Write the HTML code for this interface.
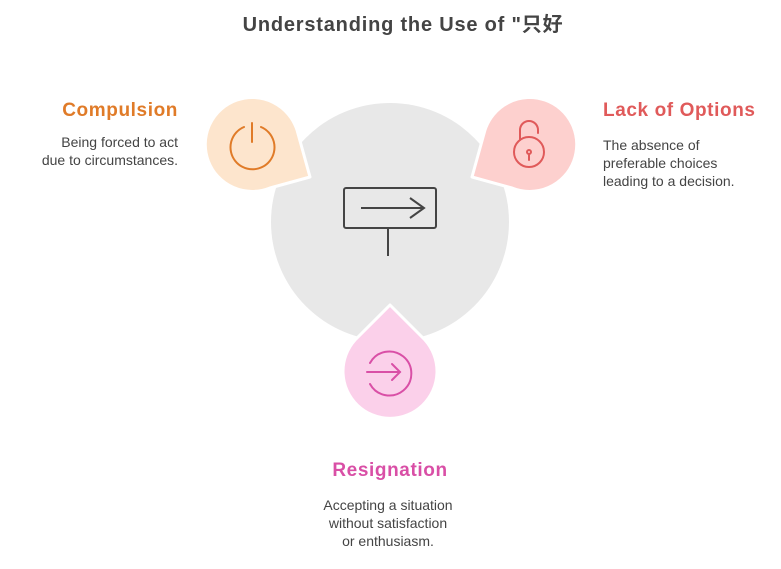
<!DOCTYPE html>
<html><head><style>
body{margin:0;width:781px;height:564px;background:#fff;overflow:hidden;font-family:"Liberation Sans","Noto Sans CJK SC",sans-serif;}
</style></head><body>
<svg width="781" height="564" xmlns="http://www.w3.org/2000/svg" font-family="Liberation Sans, Noto Sans CJK SC, sans-serif">
<text x="403" y="31" text-anchor="middle" font-size="20" font-weight="bold" fill="#444" letter-spacing="0.8">Understanding the Use of "只好</text>
<circle cx="390" cy="222" r="119" fill="#e8e8e8"/>
<path d="M310,177 L270,188 A47,47 0 1 1 297,130 Z" fill="#fde5cd" stroke="#fff" stroke-width="3" stroke-linejoin="round"/>
<path d="M472,177 L512,188 A47,47 0 1 0 485,130 Z" fill="#fdd0ce" stroke="#fff" stroke-width="3" stroke-linejoin="round"/>
<path d="M390,305 L425,340 A47,47 0 1 1 355,340 Z" fill="#fbd0ea" stroke="#fff" stroke-width="3" stroke-linejoin="round"/>
<g fill="none" stroke="#e07b28" stroke-width="2" stroke-linecap="round">
<path d="M244,127 A22,22 0 1 0 261,127"/><line x1="252" y1="123" x2="252" y2="142"/></g>
<g fill="none" stroke="#e05a5a" stroke-width="2" stroke-linecap="round">
<circle cx="529" cy="152" r="15"/><path d="M520,140 V130 A9,9 0 0 1 538,130 V133"/><circle cx="529" cy="152" r="2"/><line x1="529" y1="154" x2="529" y2="160"/></g>
<g fill="none" stroke="#d94fa6" stroke-width="2" stroke-linecap="round">
<path d="M370,363 A22,22 0 1 1 370,384"/><line x1="367" y1="372" x2="400" y2="372"/><polyline points="392,364 400,372 392,380"/></g>
<g fill="none" stroke="#444" stroke-width="2">
<rect x="344" y="188" width="92" height="40" rx="2"/><line x1="361" y1="208" x2="424" y2="208"/><polyline points="410,198 424,208 410,218"/><line x1="388" y1="228" x2="388" y2="256"/></g>
<text x="178" y="116" text-anchor="end" font-size="19" font-weight="bold" fill="#e07b28" letter-spacing="0.6">Compulsion</text>
<text x="178" y="147" text-anchor="end" font-size="14" fill="#444">Being forced to act</text>
<text x="178" y="165" text-anchor="end" font-size="14" fill="#444">due to circumstances.</text>
<text x="603" y="116" font-size="19" font-weight="bold" fill="#e05a5a" letter-spacing="0.6">Lack of Options</text>
<text x="603" y="150" font-size="14" fill="#444">The absence of</text>
<text x="603" y="168" font-size="14" fill="#444">preferable choices</text>
<text x="603" y="186" font-size="14" fill="#444">leading to a decision.</text>
<text x="390" y="476" text-anchor="middle" font-size="19" font-weight="bold" fill="#d94fa6" letter-spacing="0.6">Resignation</text>
<text x="388" y="510" text-anchor="middle" font-size="14" fill="#444">Accepting a situation</text>
<text x="388" y="528" text-anchor="middle" font-size="14" fill="#444">without satisfaction</text>
<text x="388" y="546" text-anchor="middle" font-size="14" fill="#444">or enthusiasm.</text>
</svg>
</body></html>
